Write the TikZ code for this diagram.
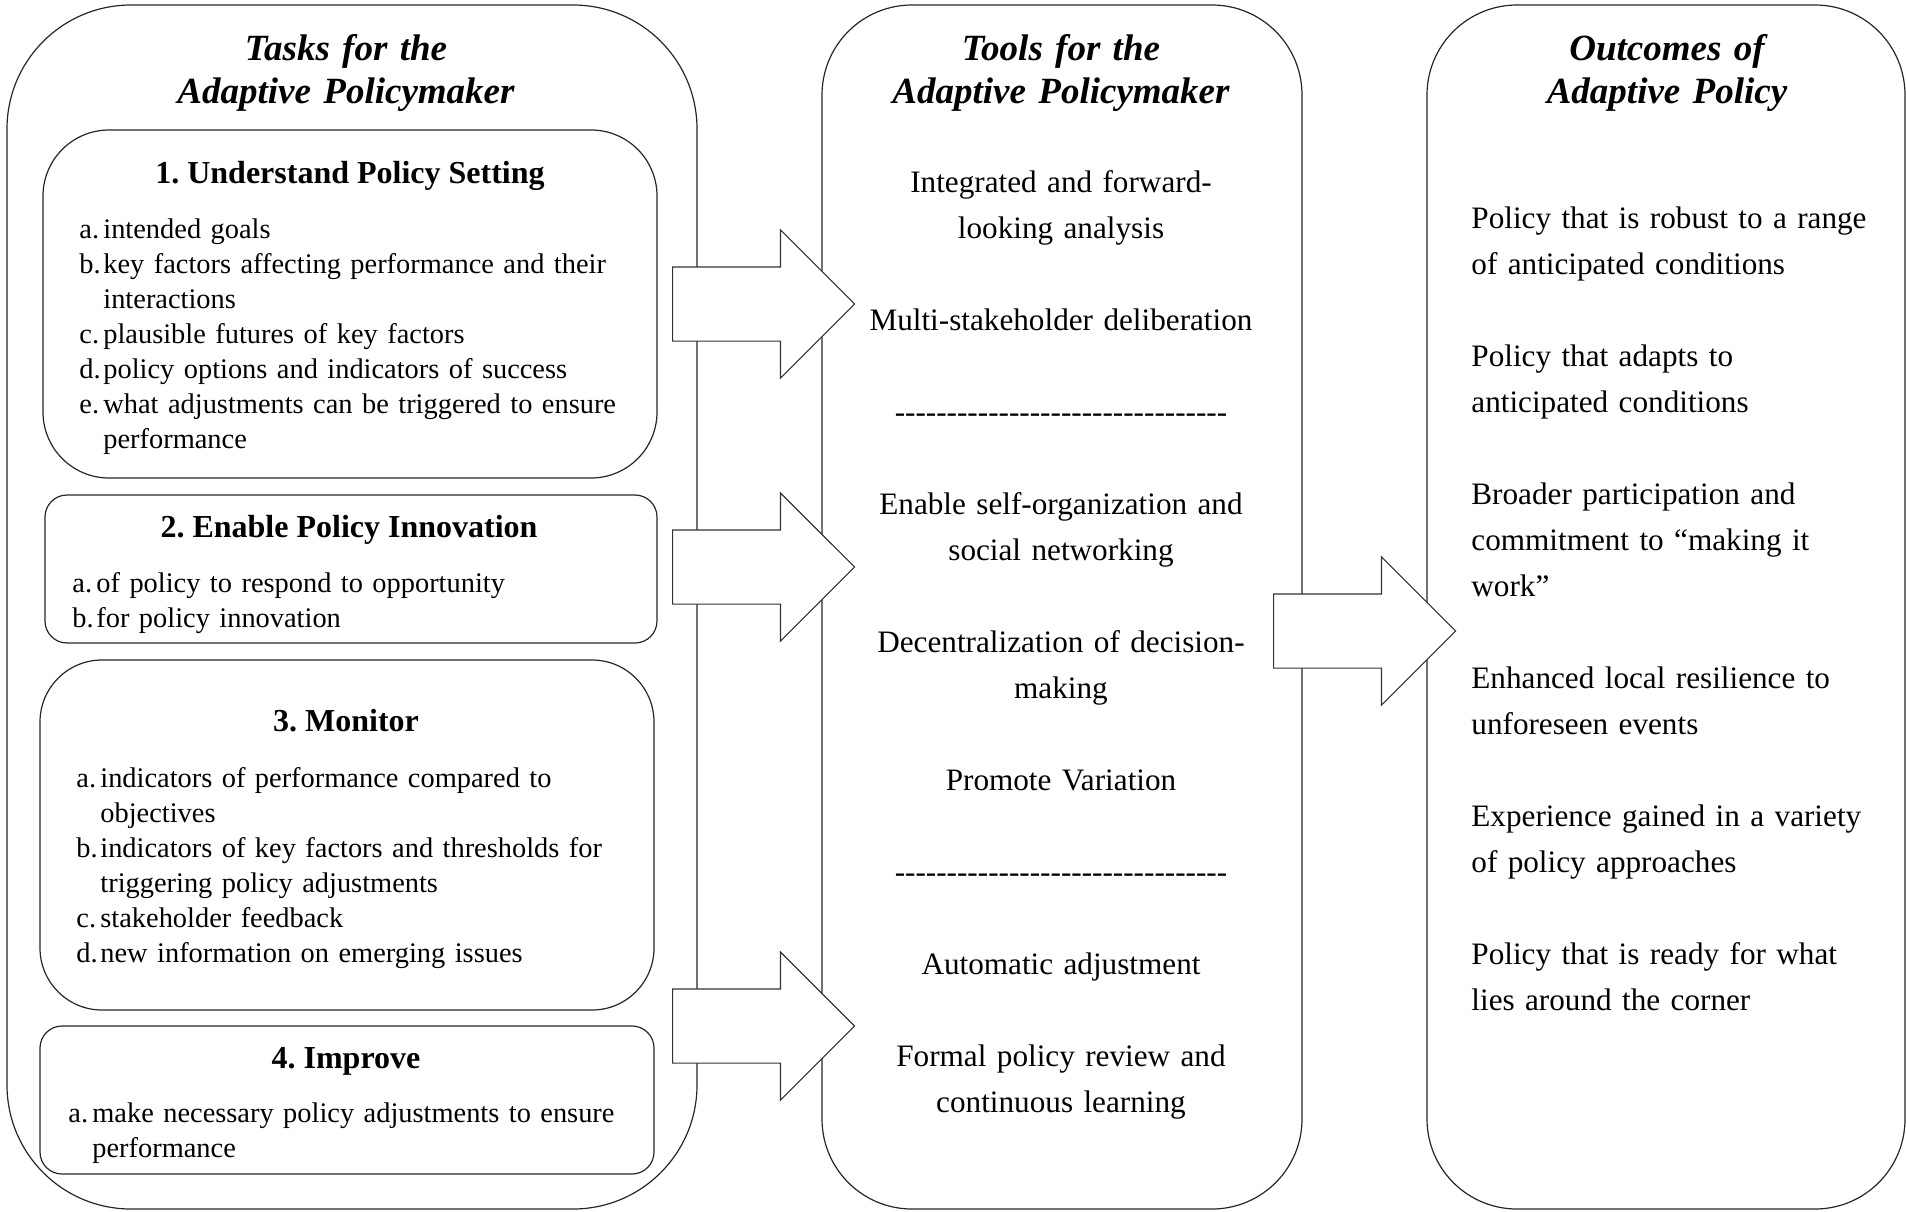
\documentclass[tikz,border=0pt]{standalone}
\usepackage{fontspec}
\setmainfont{Liberation Serif}
\usetikzlibrary{shapes.arrows,positioning}

\frenchspacing
\newcommand{\litem}[2]{\hangindent=12pt\hangafter=1\noindent\makebox[12pt][l]{#1}#2\par}
\newcommand{\dashrow}{-{}-{}-{}-{}-{}-{}-{}-{}-{}-{}-{}-{}-{}-{}-{}-{}-{}-{}-{}-{}-{}-{}-{}-{}-{}-{}-{}-{}-{}-{}-{}-{}}

\tikzset{
  panel/.style={draw=black!85, line width=0.6pt, inner sep=0pt},
  bigarrow/.style={draw=black!80, fill=white, line width=0.6pt, single arrow,
    single arrow head extend=18.5pt, single arrow head indent=0pt,
    single arrow tip angle=90, minimum height=91pt,
    inner xsep=0pt, inner ysep=18.25pt, anchor=tail},
  headtxt/.style={inner sep=0pt, anchor=base, text width=300pt, align=center,
    font=\fontsize{18.5}{21.5}\selectfont\bfseries\itshape},
  titletxt/.style={inner sep=0pt, anchor=base, font=\fontsize{16}{19}\selectfont\bfseries},
  listtxt/.style={inner sep=0pt, anchor=base west, text width=290pt, align=left,
    font=\fontsize{14.2}{17.5}\selectfont},
  coltxt/.style={inner sep=0pt, anchor=base, text width=230pt, align=center,
    font=\fontsize{15.6}{23}\selectfont},
}

\begin{document}
\begin{tikzpicture}[x=0.5pt, y=-0.5pt]
  \useasboundingbox (0,0) rectangle (1906,1211);

  % columns
  \node[panel, minimum width=345pt, minimum height=602pt, rounded corners=62pt] (tasks) at (352,607) {};
  \node[panel, minimum width=240pt, minimum height=602pt, rounded corners=45pt] (tools) at (1062,607) {};
  \node[panel, minimum width=239pt, minimum height=602pt, rounded corners=45pt] (outcomes) at (1666,607) {};

  % task boxes
  \node[panel, minimum width=307pt, minimum height=174pt, rounded corners=33pt] (understand) at (350,304) {};
  \node[panel, minimum width=306pt, minimum height=74pt, rounded corners=11pt] (enable) at (351,569) {};
  \node[panel, minimum width=307pt, minimum height=175pt, rounded corners=31pt] (monitor) at (347,835) {};
  \node[panel, minimum width=307pt, minimum height=74pt, rounded corners=11pt] (improve) at (347,1100) {};

  \node[headtxt] (taskshead) at (346,60) {Tasks for the\\Adaptive Policymaker};
  \node[headtxt] (toolshead) at (1061,60) {Tools for the\\Adaptive Policymaker};
  \node[headtxt] (outhead) at (1667,60) {Outcomes of\\Adaptive Policy};

  \node[titletxt] (understandtitle) at (350,183) {1. Understand Policy Setting};
  \node[listtxt] (understandlist) at (79,238) {%
    \litem{a.}{intended goals}%
    \litem{b.}{key factors affecting performance and their\newline interactions}%
    \litem{c.}{plausible futures of key factors}%
    \litem{d.}{policy options and indicators of success}%
    \litem{e.}{what adjustments can be triggered to ensure\newline performance}};

  \node[titletxt] (enabletitle) at (349,537) {2. Enable Policy Innovation};
  \node[listtxt] (enablelist) at (72,592) {%
    \litem{a.}{of policy to respond to opportunity}%
    \litem{b.}{for policy innovation}};

  \node[titletxt] (monitortitle) at (346,731) {3. Monitor};
  \node[listtxt] (monitorlist) at (76,787) {%
    \litem{a.}{indicators of performance compared to\newline objectives}%
    \litem{b.}{indicators of key factors and thresholds for\newline triggering policy adjustments}%
    \litem{c.}{stakeholder feedback}%
    \litem{d.}{new information on emerging issues}};

  \node[titletxt] (improvetitle) at (346,1068) {4. Improve};
  \node[listtxt] (improvelist) at (68,1122) {%
    \litem{a.}{make necessary policy adjustments to ensure\newline performance}};

  \node[coltxt] (toollist) at (1061,192) {Integrated and forward-\\looking analysis\\[23pt]
    Multi-stakeholder deliberation\\[23pt]
    \dashrow\\[23pt]
    Enable self-organization and\\social networking\\[23pt]
    Decentralization of decision-\\making\\[23pt]
    Promote Variation\\[23pt]
    \dashrow\\[23pt]
    Automatic adjustment\\[23pt]
    Formal policy review and\\continuous learning};

  \node[coltxt, anchor=base west, align=left] (outlist) at (1471,228) {Policy that is robust to a range\\of anticipated conditions\\[23pt]
    Policy that adapts to\\anticipated conditions\\[23pt]
    Broader participation and\\commitment to “making it\\work”\\[23pt]
    Enhanced local resilience to\\unforeseen events\\[23pt]
    Experience gained in a variety\\of policy approaches\\[23pt]
    Policy that is ready for what\\lies around the corner};

  % block arrows
  \node[bigarrow] (arrowa) at (672,304) {};
  \node[bigarrow] (arrowb) at (672,567) {};
  \node[bigarrow] (arrowc) at (672,1026) {};
  \node[bigarrow] (arrowd) at (1273,631) {};
\end{tikzpicture}
\end{document}
